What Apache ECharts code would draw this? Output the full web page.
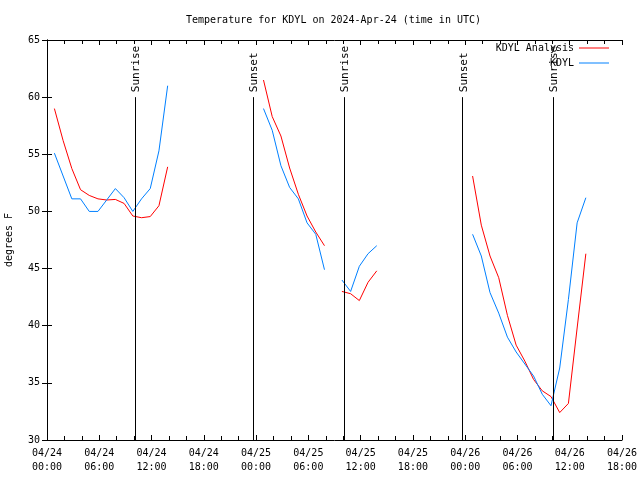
<!DOCTYPE html>
<html>
<head>
<meta charset="utf-8">
<script src="https://cdn.jsdelivr.net/npm/echarts@6/dist/echarts.min.js"></script>
<style>html,body{margin:0;padding:0;background:#fff}#c{width:640px;height:480px}</style>
</head>
<body>
<div id="c"></div>
<script>
// Hours after 2024-04-24 00:00 UTC (null value = gap in record)
const hours = [
  0.85,1.85,2.85,3.85,4.85,5.85,6.85,7.85,8.85,9.85,10.85,11.85,12.85,13.85,
  14.85,
  24.85,25.85,26.85,27.85,28.85,29.85,30.85,31.85,
  32.85,
  33.85,34.85,35.85,36.85,37.85,
  38.85,
  48.85,49.85,50.85,51.85,52.85,53.85,54.85,55.85,56.85,57.85,58.85,59.85,60.85,61.85
];
const analysisTemps = [
  59.0,56.2,53.75,51.9,51.4,51.1,51.0,51.05,50.7,49.6,49.45,49.55,50.5,53.9,
  null,
  61.5,58.3,56.6,53.8,51.5,49.6,48.2,47.0,
  null,
  43.0,42.8,42.2,43.8,44.8,
  null,
  53.1,48.8,46.1,44.2,40.9,38.3,36.9,35.3,34.3,33.8,32.4,33.2,39.8,46.3
];
const obsTemps = [
  55.1,53.1,51.1,51.1,50.0,50.0,51.0,52.0,51.2,50.0,51.1,52.0,55.3,61.0,
  null,
  59.0,57.1,54.0,52.1,51.1,49.0,48.0,44.9,
  null,
  44.0,43.0,45.2,46.3,47.0,
  null,
  48.0,46.1,42.9,41.1,39.0,37.7,36.65,35.6,34.0,33.0,36.3,42.3,49.0,51.2
];
const sunNames = ['Sunrise','Sunset','Sunrise','Sunset','Sunrise'];
const sunHours = [10.12, 23.7, 34.13, 47.72, 58.13];
const xTickLabels = ['04/24\n00:00','04/24\n06:00','04/24\n12:00','04/24\n18:00',
  '04/25\n00:00','04/25\n06:00','04/25\n12:00','04/25\n18:00',
  '04/26\n00:00','04/26\n06:00','04/26\n12:00','04/26\n18:00'];

const FONT = 'DejaVu Sans Mono';
const txt = {fontFamily: FONT, fontSize: 10, color: '#000'};
const zip = arr => hours.map((h, i) => [h, arr[i]]);

const chart = echarts.init(document.getElementById('c'));
chart.setOption({
  animation: false,
  backgroundColor: '#fff',
  title: {
    text: 'Temperature for KDYL on 2024-Apr-24 (time in UTC)',
    left: 181, top: 10,
    textStyle: {fontFamily: FONT, fontSize: 10, fontWeight: 'normal', color: '#000'}
  },
  legend: {
    orient: 'vertical', right: 26, top: 37, align: 'right',
    itemWidth: 30, itemHeight: 1, itemGap: 3, icon: 'rect',
    textStyle: Object.assign({lineHeight: 12}, txt),
    data: ['KDYL Analysis', 'KDYL']
  },
  grid: {left: 47, right: 18, top: 40, bottom: 40, outerBoundsMode: 'none', containLabel: false},
  xAxis: [{
    type: 'value', min: 0, max: 66, interval: 6,
    axisLine: {show: true, lineStyle: {color: '#000', width: 1}},
    axisTick: {show: true, inside: true, length: 5, lineStyle: {color: '#000'}},
    minorTick: {show: true, splitNumber: 3, length: 4, lineStyle: {color: '#000'}},
    splitLine: {show: false},
    axisLabel: Object.assign({
      margin: 6, lineHeight: 14, hideOverlap: false,
      formatter: v => xTickLabels[Math.round(v / 6)] || ''
    }, txt)
  }, {
    type: 'value', min: 0, max: 66, interval: 6, position: 'top',
    axisLine: {show: true, lineStyle: {color: '#000', width: 1}},
    axisTick: {show: true, inside: true, length: 5, lineStyle: {color: '#000'}},
    minorTick: {show: true, splitNumber: 3, length: 4, lineStyle: {color: '#000'}},
    splitLine: {show: false},
    axisLabel: {show: false}
  }],
  yAxis: [{
    type: 'value', min: 30, max: 65, interval: 5,
    name: 'degrees F', nameLocation: 'middle', nameGap: 33,
    nameTextStyle: txt,
    axisLine: {show: true, lineStyle: {color: '#000', width: 1}},
    axisTick: {show: true, inside: true, length: 5, lineStyle: {color: '#000'}},
    splitLine: {show: false},
    axisLabel: Object.assign({margin: 7}, txt)
  }, {
    type: 'value', min: 30, max: 65, interval: 5, position: 'right',
    axisLine: {show: true, lineStyle: {color: '#000', width: 1}},
    axisTick: {show: true, inside: true, length: 5, lineStyle: {color: '#000'}},
    splitLine: {show: false},
    axisLabel: {show: false}
  }],
  series: [{
    name: 'KDYL Analysis', type: 'line', data: zip(analysisTemps),
    connectNulls: false, showSymbol: false, symbol: 'none',
    lineStyle: {color: '#ff0000', width: 1}, itemStyle: {color: '#ff0000'},
    markLine: {
      silent: true, symbol: 'none', animation: false,
      lineStyle: {color: '#000', width: 1, type: 'solid'},
      label: {show: false},
      data: sunHours.map(h => [{coord: [h, 60]}, {coord: [h, 30]}])
    },
    markPoint: {
      silent: true, symbol: 'circle', symbolSize: 1,
      itemStyle: {color: 'rgba(0,0,0,0)'},
      label: {
        show: true, position: 'inside', rotate: 90, align: 'left', verticalAlign: 'middle',
        offset: [5, 1], formatter: p => p.name,
        fontFamily: FONT, fontSize: 11, color: '#000'
      },
      data: sunHours.map((h, i) => ({name: sunNames[i], coord: [h, 60]}))
    }
  }, {
    name: 'KDYL', type: 'line', data: zip(obsTemps),
    connectNulls: false, showSymbol: false, symbol: 'none',
    lineStyle: {color: '#0080ff', width: 1}, itemStyle: {color: '#0080ff'}
  }]
});
</script>
</body>
</html>
